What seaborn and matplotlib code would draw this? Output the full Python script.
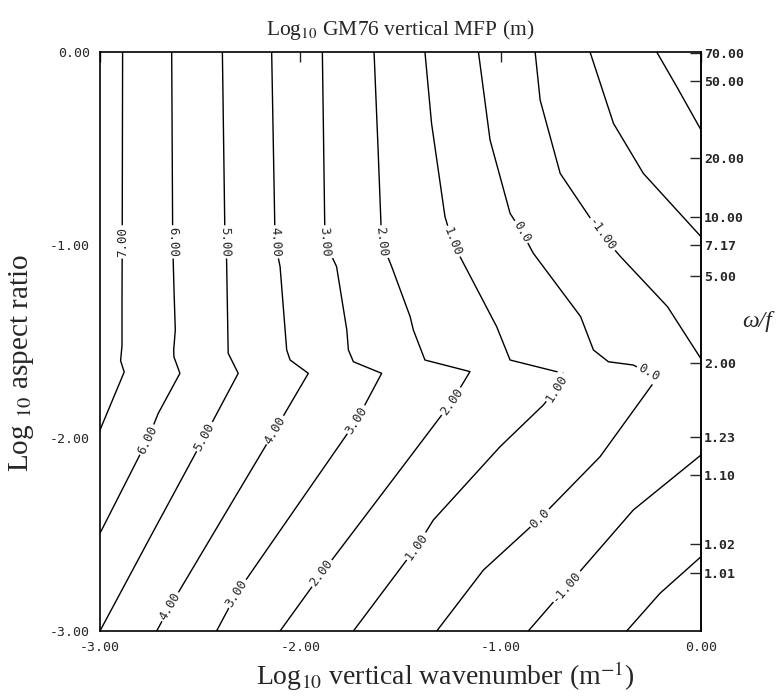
import numpy as np
import matplotlib
matplotlib.use("Agg")
import matplotlib.pyplot as plt
import seaborn as sns

# contour lines of log10 MFP (x = log10 m, y = log10 aspect ratio)
contour_levels = [7, 6, 5, 4, 3, 2, 1, 0, -1, -1, -2, -2, -3]
contour_x = [
    [-2.887, -2.889, -2.890, -2.890, -2.897, -2.879, -3.000],
    [-2.642, -2.637, -2.630, -2.624, -2.632, -2.631, -2.601, -2.709, -2.763, -3.000],
    [-2.389, -2.376, -2.368, -2.362, -2.360, -2.310, -2.478, -2.730, -3.000],
    [-2.143, -2.126, -2.101, -2.068, -2.051, -1.960, -2.126, -2.384, -2.651, -2.717],
    [-1.890, -1.877, -1.819, -1.768, -1.760, -1.735, -1.594, -1.718, -2.053, -2.318, -2.418],
    [-1.632, -1.612, -1.594, -1.544, -1.452, -1.436, -1.378, -1.153, -1.244, -1.502, -1.893, -2.101],
    [-1.378, -1.345, -1.278, -1.241, -1.194, -1.020, -0.953, -0.687, -0.720, -0.787, -1.003,
     -1.336, -1.419, -1.735],
    [-1.111, -1.053, -0.953, -0.895, -0.837, -0.601, -0.537, -0.462, -0.338, -0.263, -0.221,
     -0.504, -0.804, -1.086, -1.319],
    [-0.828, -0.803, -0.703, -0.496, -0.401, -0.167, 0.000],
    [0.000, -0.338, -0.670, -0.862],
    [-0.554, -0.437, -0.288, 0.000],
    [0.000, -0.205, -0.371],
    [-0.221, -0.121, 0.000],
]
contour_y = [
    [0.000, -0.984, -1.300, -1.520, -1.600, -1.658, -1.959],
    [0.000, -0.984, -1.250, -1.440, -1.544, -1.579, -1.665, -1.872, -2.010, -2.494],
    [0.000, -0.984, -1.078, -1.440, -1.561, -1.665, -1.993, -2.477, -3.000],
    [0.000, -0.984, -1.112, -1.544, -1.596, -1.665, -1.959, -2.408, -2.874, -3.000],
    [0.000, -0.984, -1.112, -1.440, -1.544, -1.605, -1.665, -1.907, -2.408, -2.805, -3.000],
    [0.000, -0.500, -0.984, -1.112, -1.371, -1.440, -1.596, -1.656, -1.812, -2.166, -2.701, -3.000],
    [0.000, -0.370, -0.853, -0.983, -1.078, -1.423, -1.596, -1.665, -1.743, -1.829, -2.045,
     -2.425, -2.563, -3.000],
    [0.000, -0.456, -0.836, -0.931, -1.043, -1.371, -1.544, -1.605, -1.622, -1.662, -1.691,
     -2.097, -2.416, -2.684, -3.000],
    [0.000, -0.249, -0.629, -0.948, -1.061, -1.320, -1.590],
    [-2.088, -2.373, -2.770, -3.000],
    [0.000, -0.370, -0.629, -0.957],
    [-2.615, -2.805, -3.000],
    [0.000, -0.180, -0.404],
]
# which vertices of each line carry an inline label
label_at = [[1], [1, 8], [1, 6], [1, 6, 8], [1, 7, 9], [2, 8, 10], [3, 8, 12], [3, 9, 12],
            [3], [2], [], [], []]

axis_ticks = [-3, -2, -1, 0]
wf_ticks = [70, 50, 20, 10, 7.17, 5, 2, 1.23, 1.10, 1.02, 1.01]
N_over_f = 71.0

sns.set_style("white")
plt.rcParams['font.family'] = ['Liberation Serif', 'DejaVu Serif']
plt.rcParams['mathtext.fontset'] = 'stix'

fig, ax = plt.subplots(figsize=(7.81, 7.0), dpi=100)
fig.subplots_adjust(left=0.128, right=0.8976, bottom=0.0986, top=0.9257)
ax.set_xlim(-3, 0)
ax.set_ylim(-3, 0)

for lev, xs, ys in zip(contour_levels, contour_x, contour_y):
    sns.lineplot(x=xs, y=ys, sort=False, estimator=None, color='black', lw=1.0, ax=ax)

# inline labels, rotated along the line
mono = 'DejaVu Sans Mono'
for lev, xs, ys, idx in zip(contour_levels, contour_x, contour_y, label_at):
    txt = "0.0" if lev == 0 else f"{lev:.2f}"
    for i in idx:
        p0 = ax.transData.transform((xs[i - 1], ys[i - 1]))
        p1 = ax.transData.transform((xs[i + 1], ys[i + 1]))
        ang = np.degrees(np.arctan2(p1[1] - p0[1], p1[0] - p0[0]))
        if ang > 90:
            ang -= 180
        if ang <= -90:
            ang += 180
        ax.text(xs[i], ys[i], txt, rotation=ang, rotation_mode='anchor', ha='center',
                va='center', fontfamily=mono, fontsize=9, zorder=5,
                bbox=dict(fc='white', ec='none', pad=1.2))

ax.set_xticks(axis_ticks)
ax.set_xticklabels([f"{t:.2f}" for t in axis_ticks])
ax.set_yticks(axis_ticks)
ax.set_yticklabels([f"{t:.2f}" for t in axis_ticks])
ax.tick_params(direction='in', length=7, width=1, top=True, right=False, labelsize=9.5, pad=7)
for lbl in ax.get_xticklabels() + ax.get_yticklabels():
    lbl.set_fontfamily(mono)
for sp in ax.spines.values():
    sp.set_linewidth(1.2)
    sp.set_color('black')


def to_wf(y):
    return np.sqrt(1 + (N_over_f * 10.0 ** np.asarray(y, float)) ** 2)


def from_wf(w):
    w = np.asarray(w, float)
    return np.log10(np.sqrt(np.clip(w ** 2 - 1, 1e-12, None)) / N_over_f)


sec = ax.secondary_yaxis('right', functions=(to_wf, from_wf))
sec.set_yticks(wf_ticks)
sec.set_yticklabels([f"{w:.2f}" for w in wf_ticks])
sec.tick_params(direction='in', length=8, width=1, pad=2, labelsize=9.5)
for lbl in sec.get_yticklabels():
    lbl.set_fontfamily(mono)
    lbl.set_fontweight('bold')
sec.spines['right'].set_linewidth(1.2)

ax.set_title("Log$_{10}$ GM76 vertical MFP (m)", fontsize=15.5, pad=12)
ax.set_xlabel("Log$_{10}$ vertical wavenumber (m$^{-1}$)", fontsize=20)
ax.xaxis.label.set_va('center')
ax.xaxis.set_label_coords(0.575, -0.078)
ax.set_ylabel("Log $_{10}$ aspect ratio", fontsize=21)
ax.yaxis.label.set_va('center')
ax.yaxis.set_label_coords(-0.13, 0.462)
ax.text(1.093, 0.534, "ω/f", transform=ax.transAxes, fontsize=17, style='italic',
        ha='center', va='center')

fig.savefig("out.png", dpi=100)
